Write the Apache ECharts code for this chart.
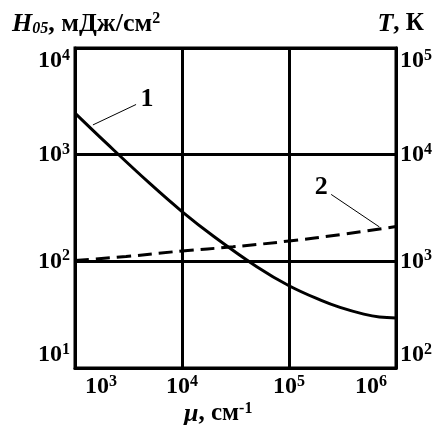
<!DOCTYPE html>
<html>
<head>
<meta charset="utf-8">
<script src="https://cdn.jsdelivr.net/npm/echarts@6/dist/echarts.min.js"></script>
<style>
html, body { margin: 0; background: #fff; }
#chart { width: 443px; height: 425px; }
</style>
</head>
<body>
<div id="chart"></div>
<script>
// curve 1: H05 (left axis) vs mu
var mu = [1e3, 2e3, 5e3, 1e4, 2e4, 5e4, 1e5, 2e5, 3e5, 5e5, 7e5, 1e6];
var h05 = [2450, 1260, 537, 293, 170, 89, 59, 43, 37, 32, 30, 29.5];
// curve 2: T (right axis) vs mu
var muT = [1e3, 3e3, 1e4, 3e4, 1e5, 3e5, 1e6];
var temp = [1020, 1110, 1250, 1370, 1550, 1780, 2120];
// curve labels: [text, x, y of label, x, y where leader meets curve, axis index]
var curveLabels = [
    ['1', 4700, 3300, 1470, 1900, 0],
    ['2', 2.0e5, 4900, 7.0e5, 2100, 1]
];

var serif = 'Liberation Serif';
var rich = {
    b: { fontFamily: serif, fontWeight: 'bold', fontSize: 24, color: '#000' },
    s: { fontFamily: serif, fontWeight: 'bold', fontSize: 16, color: '#000', padding: [0, 0, 10, 0] },
    bl: { fontFamily: serif, fontWeight: 'bold', fontSize: 24, color: '#000', padding: [0, 0, 0, 52] },
    sr: { fontFamily: serif, fontWeight: 'bold', fontSize: 16, color: '#000', padding: [0, 50, 10, 0] }
};
function pow10(v) {
    var e = Math.round(Math.log10(v));
    return '{b|10}{s|' + e + '}';
}
// first and last x labels sit inside the plot edges, as in the original
function pow10x(v) {
    var e = Math.round(Math.log10(v));
    if (e === 3) return '{bl|10}{s|' + e + '}';
    if (e === 6) return '{b|10}{sr|' + e + '}';
    return pow10(v);
}
function pairs(xs, ys) {
    return xs.map(function (x, i) { return [x, ys[i]]; });
}

var chart = echarts.init(document.getElementById('chart'));
var lineStyle = { color: '#000', width: 3 };

chart.setOption({
    animation: false,
    backgroundColor: '#fff',
    grid: {
        left: 75, right: 47, top: 48, bottom: 57,
        show: true, borderColor: '#000', borderWidth: 3
    },
    xAxis: {
        type: 'log', logBase: 10, min: 1e3, max: 1e6,
        axisLine: { show: true, lineStyle: lineStyle },
        axisTick: { show: false },
        splitLine: { show: true, lineStyle: lineStyle },
        axisLabel: { formatter: pow10x, rich: rich, margin: 6 }
    },
    yAxis: [{
        type: 'log', logBase: 10, min: 10, max: 1e4,
        axisLine: { show: true, lineStyle: lineStyle },
        axisTick: { show: false },
        splitLine: { show: true, lineStyle: lineStyle },
        axisLabel: {
            formatter: pow10, rich: rich, margin: 5,
            verticalAlignMinLabel: 'bottom', verticalAlignMaxLabel: 'top'
        }
    }, {
        type: 'log', logBase: 10, min: 100, max: 1e5, position: 'right',
        axisLine: { show: true, lineStyle: lineStyle },
        axisTick: { show: false },
        splitLine: { show: false },
        axisLabel: {
            formatter: pow10, rich: rich, margin: 4,
            verticalAlignMinLabel: 'bottom', verticalAlignMaxLabel: 'top'
        }
    }],
    series: [{
        type: 'line', yAxisIndex: 0, data: pairs(mu, h05),
        smooth: 0.4, showSymbol: false,
        lineStyle: { color: '#000', width: 3 }
    }, {
        type: 'line', yAxisIndex: 1, data: pairs(muT, temp),
        smooth: true, showSymbol: false,
        lineStyle: { color: '#000', width: 3, type: [14, 7] }
    }]
});

var graphics = [{
    type: 'text', left: 12, top: 11,
    style: {
        text: '{h|H}{sub|05}{n|, мДж/см}{sup|2}',
        rich: {
            h: { fontFamily: serif, fontWeight: 'bold', fontStyle: 'italic', fontSize: 26, fill: '#000' },
            sub: { fontFamily: serif, fontWeight: 'bold', fontStyle: 'italic', fontSize: 16, fill: '#000', padding: [9, 0, 0, 0] },
            n: { fontFamily: serif, fontWeight: 'bold', fontSize: 26, fill: '#000' },
            sup: { fontFamily: serif, fontWeight: 'bold', fontSize: 16, fill: '#000', padding: [0, 0, 10, 0] }
        }
    }
}, {
    type: 'text', right: 19, top: 11,
    style: {
        text: '{t|T}{n|, К}',
        rich: {
            t: { fontFamily: serif, fontWeight: 'bold', fontStyle: 'italic', fontSize: 26, fill: '#000' },
            n: { fontFamily: serif, fontWeight: 'bold', fontSize: 25, fill: '#000' }
        }
    }
}, {
    type: 'text', left: 184, top: 401,
    style: {
        text: '{m|μ}{n|, см}{sup|-1}',
        rich: {
            m: { fontFamily: serif, fontWeight: 'bold', fontStyle: 'italic', fontSize: 26, fill: '#000' },
            n: { fontFamily: serif, fontWeight: 'bold', fontSize: 25, fill: '#000' },
            sup: { fontFamily: serif, fontWeight: 'bold', fontSize: 16, fill: '#000', padding: [0, 0, 10, 0] }
        }
    }
}];

curveLabels.forEach(function (c) {
    var p = chart.convertToPixel({ xAxisIndex: 0, yAxisIndex: c[5] }, [c[1], c[2]]);
    var q = chart.convertToPixel({ xAxisIndex: 0, yAxisIndex: c[5] }, [c[3], c[4]]);
    graphics.push({
        type: 'text', x: p[0], y: p[1],
        style: {
            text: c[0], fontFamily: serif, fontWeight: 'bold', fontSize: 26,
            fill: '#000', align: 'center', verticalAlign: 'middle'
        }
    });
    var dx = q[0] - p[0], dy = q[1] - p[1];
    var len = Math.sqrt(dx * dx + dy * dy);
    var off = 12;
    graphics.push({
        type: 'line',
        shape: { x1: p[0] + dx / len * off, y1: p[1] + dy / len * off, x2: q[0], y2: q[1] },
        style: { stroke: '#000', lineWidth: 1 }
    });
});

chart.setOption({ graphic: graphics });
</script>
</body>
</html>
